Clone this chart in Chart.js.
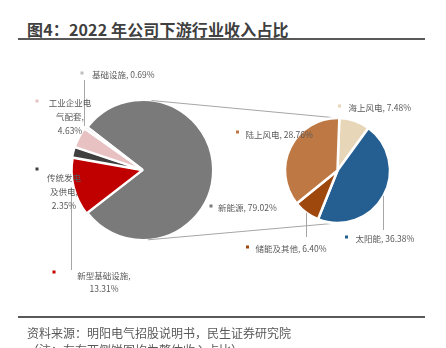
<!DOCTYPE html>
<html>
<head>
<meta charset="utf-8">
<script src="https://cdn.jsdelivr.net/npm/chart.js@4.4.0/dist/chart.umd.min.js"></script>
<style>
  body { margin: 0; background: #fff; width: 446px; height: 348px; overflow: hidden; position: relative;
         font-family: "Noto Sans CJK SC", "Noto Sans", sans-serif; }
  #title { position: absolute; left: 27px; top: 18px; font-size: 16px; font-weight: bold; color: #404040;
           line-height: 22px; white-space: nowrap; letter-spacing: 0.15px; }
  .rule { position: absolute; left: 18px; width: 407px; height: 2px; background: #595959; }
  #src { position: absolute; left: 27px; top: 324px; font-size: 12px; color: #595959; line-height: 17px; white-space: nowrap; }
  canvas { position: absolute; left: 0; top: 0; }
</style>
</head>
<body>
<div id="title">图4：2022 年公司下游行业收入占比</div>
<div class="rule" style="top:38px"></div>
<canvas id="mainPie" width="446" height="348"></canvas>
<canvas id="subPie" width="446" height="348"></canvas>
<div class="rule" style="top:316px"></div>
<div id="src">资料来源：明阳电气招股说明书，民生证券研究院<br>（注：左右两侧饼图均为整体收入占比）</div>

<script>
// Downstream revenue shares, 2022 (% of total revenue)
const mainCategories = ['新能源', '新型基础设施', '传统发电及供电', '工业企业电气配套', '基础设施'];
const mainShares = [79.02, 13.31, 2.35, 4.63, 0.69];
// Breakdown of 新能源 (also % of total revenue)
const subCategories = ['海上风电', '太阳能', '储能及其他', '陆上风电'];
const subShares = [7.48, 36.38, 6.40, 28.76];

const mainColors = ['#7a7a7a', '#c00000', '#3f3f3f', '#e8c2c2', '#ececec'];
const mainMarkers = ['#7a7a7a', '#c00000', '#3f3f3f', '#e8c2c2', '#bfbfbf'];
const subColors = ['#e8d6b8', '#255e91', '#9e480e', '#bd7843'];

// Label placement relative to each pie's centre: marker square, text anchor, line breaks, leader end
const mainLabelLayout = [
  { marker: [68, 36],   text: [75, 38],   align: 'left',   breaks: [] },
  { marker: [-89, 102], text: [-39, 106], align: 'center', breaks: [7], step: 13, leaderTo: 100 },
  { marker: [-106, -1], text: [-79, 8],   align: 'center', breaks: [4, 8], step: 14 },
  { marker: [-106, -69],text: [-73, -67], align: 'center', breaks: [5, 9], step: 14 },
  { marker: [-61, -97], text: [-51, -95], align: 'left',   breaks: [], leaderTo: -90 }
];
const subLabelLayout = [
  { marker: [2, -64.5],   text: [11, -62.5],  align: 'left', breaks: [] },
  { marker: [9, 66.5],    text: [18, 68.5],   align: 'left', breaks: [], leaderTo: 59.5 },
  { marker: [-90, 76.5],  text: [-82, 78.5],  align: 'left', breaks: [], leaderTo: 66.5 },
  { marker: [-100, -38.5],text: [-92, -35.5], align: 'left', breaks: [] }
];

const LABEL_FONT = '8.5px "Noto Sans CJK SC", "Noto Sans", sans-serif';
const LABEL_COLOR = '#595959';
const LINE_COLOR = '#a6a6a6';

function splitLabel(str, breaks) {
  const out = [];
  let prev = 0;
  breaks.forEach(b => { out.push(str.slice(prev, b).trim()); prev = b; });
  out.push(str.slice(prev).trim());
  return out;
}

function arcInfo(chart, i) {
  const el = chart.getDatasetMeta(0).data[i];
  const off = chart.data.datasets[0].offset ? (chart.data.datasets[0].offset[i] || 0) : 0;
  return { x: el.x, y: el.y, r: el.outerRadius, mid: (el.startAngle + el.endAngle) / 2, off };
}

// Leader lines, then marker + text for each slice, on top of the slices
function sliceLabelPlugin(categories, shares, layout, markers) {
  return {
    id: 'sliceLabels',
    afterDatasetsDraw(chart) {
      const ctx = chart.ctx;
      const c = arcInfo(chart, 0);
      ctx.save();
      ctx.strokeStyle = LINE_COLOR;
      ctx.lineWidth = 1;
      layout.forEach((L, i) => {
        if (L.leaderTo === undefined) return;
        const a = arcInfo(chart, i);
        const R = a.r + a.off;
        const px = Math.round(a.x + Math.cos(a.mid) * R) + 0.5;
        const py = a.y + Math.sin(a.mid) * R;
        ctx.beginPath();
        ctx.moveTo(px, py);
        ctx.lineTo(px, a.y + L.leaderTo);
        ctx.stroke();
      });
      ctx.font = LABEL_FONT;
      ctx.textBaseline = 'middle';
      layout.forEach((L, i) => {
        ctx.fillStyle = markers[i];
        ctx.fillRect(c.x + L.marker[0] - 1.5, c.y + L.marker[1] - 1.5, 3, 3);
        const full = categories[i] + ', ' + shares[i].toFixed(2) + '%';
        const lines = splitLabel(full, L.breaks);
        ctx.fillStyle = LABEL_COLOR;
        ctx.textAlign = L.align;
        lines.forEach((t, k) => ctx.fillText(t, c.x + L.text[0], c.y + L.text[1] + k * (L.step || 0)));
      });
      ctx.restore();
    }
  };
}

const total = mainShares.reduce((s, v) => s + v, 0);

const mainChart = new Chart(document.getElementById('mainPie'), {
  type: 'pie',
  data: {
    labels: mainCategories,
    datasets: [{
      data: mainShares,
      backgroundColor: mainColors,
      borderColor: '#ffffff',
      borderWidth: 2,
      offset: [0, 4, 4, 4, 4]
    }]
  },
  options: {
    responsive: false,
    animation: false,
    devicePixelRatio: 1,
    radius: 70,
    // centre the "新能源" slice on the right, pointing at the breakdown pie
    rotation: 90 - (mainShares[0] / total) * 180,
    layout: { padding: { left: 73, right: 233, top: 100, bottom: 108 } },
    plugins: { legend: { display: false }, tooltip: { enabled: false } }
  },
  plugins: [sliceLabelPlugin(mainCategories, mainShares, mainLabelLayout, mainMarkers)]
});

// Connector lines between the main pie and the breakdown pie
const connectorPlugin = {
  id: 'connectors',
  beforeDatasetsDraw(chart) {
    const m = arcInfo(mainChart, 0);
    const s = arcInfo(chart, 0);
    const deg = Math.PI / 180;
    const topA = -90 * deg + 7 * deg, botA = 86 * deg;
    const ctx = chart.ctx;
    ctx.save();
    ctx.strokeStyle = LINE_COLOR;
    ctx.lineWidth = 1;
    ctx.beginPath();
    ctx.moveTo(m.x + Math.cos(topA) * m.r, m.y + Math.sin(topA) * m.r);
    ctx.lineTo(s.x, s.y - s.r);
    ctx.moveTo(m.x + Math.cos(botA) * m.r, m.y + Math.sin(botA) * m.r);
    ctx.lineTo(s.x, s.y + s.r);
    ctx.stroke();
    ctx.restore();
  }
};

new Chart(document.getElementById('subPie'), {
  type: 'pie',
  data: {
    labels: subCategories,
    datasets: [{
      data: subShares,
      backgroundColor: subColors,
      borderColor: '#ffffff',
      borderWidth: 2.5
    }]
  },
  options: {
    responsive: false,
    animation: false,
    devicePixelRatio: 1,
    radius: 52.5,
    rotation: 2,
    layout: { padding: { left: 284, right: 55, top: 118, bottom: 125 } },
    plugins: { legend: { display: false }, tooltip: { enabled: false } }
  },
  plugins: [connectorPlugin, sliceLabelPlugin(subCategories, subShares, subLabelLayout, subColors)]
});
</script>
</body>
</html>
